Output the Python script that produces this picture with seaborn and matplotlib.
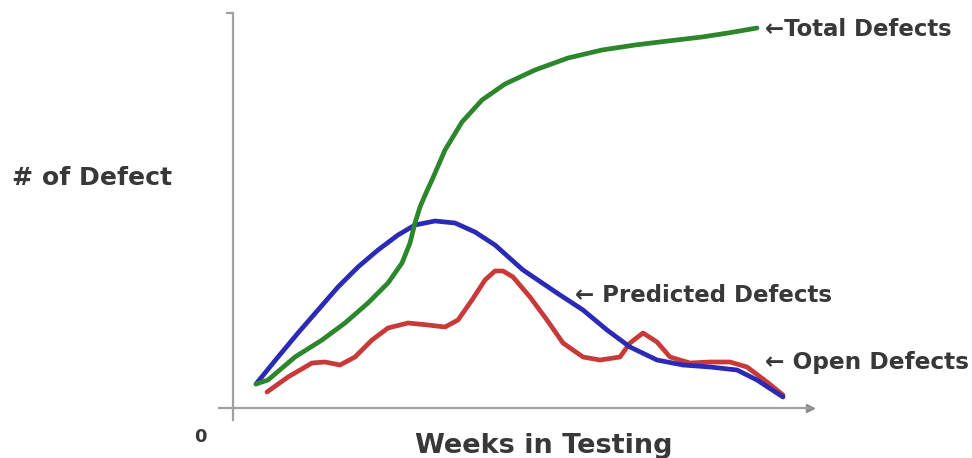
import matplotlib
matplotlib.use("Agg")
import matplotlib.pyplot as plt
import seaborn as sns
import pandas as pd

# curves (x in weeks, y in defects)
total_weeks = [1.15, 1.75, 3.1, 4.45, 5.6, 6.75, 7.75, 8.45, 8.85, 9.1, 9.35, 9.65, 9.95,
               10.6, 11.45, 12.45, 13.6, 15.1, 16.75, 18.45, 20.1, 21.75, 23.45, 24.75, 26.2]
total_defects = [6.0, 7.0, 12.75, 17.0, 21.25, 26.25, 31.25, 36.25, 41.25, 46.25, 50.25, 53.75,
                 57.0, 64.5, 71.5, 77.0, 81.0, 84.5, 87.5, 89.5, 90.75, 91.75, 92.75, 93.75, 95.0]

predicted_weeks = [1.15, 2.25, 3.25, 4.25, 5.25, 6.25, 7.25, 8.25, 9.1, 10.1, 11.1, 12.1, 13.1,
                   14.5, 16.2, 17.5, 18.7, 19.85, 21.2, 22.5, 23.85, 25.2, 26.2, 27.5]
predicted_defects = [6.0, 12.75, 18.75, 24.5, 30.25, 35.25, 39.5, 43.25, 45.75, 46.75, 46.25,
                     44.0, 40.75, 34.5, 28.75, 24.5, 19.5, 15.25, 12.0, 10.75, 10.25, 9.5, 7.0,
                     2.75]

open_weeks = [1.7, 2.75, 3.95, 4.6, 5.35, 6.1, 6.95, 7.75, 8.75, 9.75, 10.6, 11.25, 11.95,
              12.6, 13.1, 13.5, 14.0, 14.85, 15.7, 16.5, 17.5, 18.35, 19.35, 19.85, 20.5, 21.2,
              21.85, 22.85, 23.85, 24.85, 25.7, 26.7, 27.5]
open_defects = [4.0, 7.75, 11.25, 11.5, 10.75, 12.75, 17.0, 20.0, 21.25, 20.75, 20.25, 22.0,
                27.0, 32.0, 34.25, 34.25, 32.75, 27.75, 22.0, 16.25, 12.75, 12.0, 12.75, 16.25,
                18.75, 16.5, 12.75, 11.25, 11.5, 11.5, 10.25, 6.5, 3.25]

labels = ["\u2190Total Defects", "\u2190 Predicted Defects", "\u2190 Open Defects"]

sns.set_style("white")
plt.rcParams["font.family"] = ["DejaVu Sans"]

W, H = 972, 458
fig = plt.figure(figsize=(W / 100, H / 100), dpi=100)
ax = fig.add_axes([219 / W, 38 / H, 591 / W, 407 / H])

red = "#c83a3a"
blue = "#2a2ab4"
green = "#2c862c"

df_open = pd.DataFrame({"week": open_weeks, "defects": open_defects})
df_pred = pd.DataFrame({"week": predicted_weeks, "defects": predicted_defects})
df_total = pd.DataFrame({"week": total_weeks, "defects": total_defects})

line_kw = dict(lw=3.4, estimator=None, sort=False, solid_joinstyle="round",
               solid_capstyle="round")
sns.lineplot(data=df_open, x="week", y="defects", color=red, ax=ax, **line_kw)
sns.lineplot(data=df_pred, x="week", y="defects", color=blue, ax=ax, **line_kw)
sns.lineplot(data=df_total, x="week", y="defects", color=green, ax=ax, **line_kw)

ax.set_xlim(-0.7, 28.85)
ax.set_ylim(-3, 98.75)
for s in ["top", "right"]:
    ax.spines[s].set_visible(False)
for s in ["left", "bottom"]:
    ax.spines[s].set_position(("data", 0))
    ax.spines[s].set_color("#a0a0a0")
    ax.spines[s].set_linewidth(1.6)
ax.plot([1], [0], marker=">", color="#8a8a8a", markersize=6,
        transform=ax.get_yaxis_transform(), clip_on=False)
ax.set_xticks([])
ax.set_yticks([98.75])
ax.set_yticklabels([])
ax.tick_params(axis="y", length=5, width=1.6, color="#a0a0a0", left=True)
ax.set_xlabel("")
ax.set_ylabel("")

# texts: (string, left px, right px, centre y px)
texts = [
    ("# of Defect", 12, 173, 178),
    ("Weeks in Testing", 415, 673, 446),
    (labels[0], 765, 953, 29),
    (labels[1], 575, 833, 295),
    (labels[2], 765, 970, 362),
]
fig.canvas.draw()
renderer = fig.canvas.get_renderer()
for s, x0, x1, yc in texts:
    t = fig.text(x0 / W, 1 - yc / H, s, fontsize=14, fontweight="bold",
                 color="#383838", va="center", ha="left")
    w = t.get_window_extent(renderer).width
    t.set_fontsize(14 * (x1 - x0) / w)

fig.text(200 / W, 1 - 437 / H, "0", fontsize=13, fontweight="bold",
         color="#383838", va="center", ha="center")

fig.savefig("out.png", dpi=100)
